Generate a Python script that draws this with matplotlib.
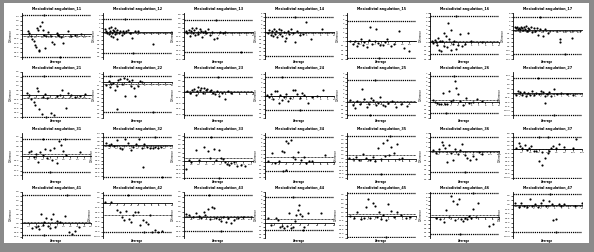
import matplotlib
matplotlib.use("Agg")
import matplotlib.pyplot as plt
from matplotlib.ticker import MaxNLocator

# ---------------- data ----------------
teeth = ["11", "12", "13", "14", "15", "16", "17",
         "21", "22", "23", "24", "25", "26", "27",
         "31", "32", "33", "34", "35", "36", "37",
         "41", "42", "43", "44", "45", "46", "47"]

avg_11 = [0.5,0.6,0.8,0.9,1.0,1.1,1.2,1.3,1.4,1.5,1.5,1.6,1.7,1.8,1.9,2.0,2.1,2.3,2.5,2.6,2.8,3.0,3.1,3.2,3.4,3.6,4.0,4.3,4.6,5.1,1.9,3.3]
diff_11 = [0.4,0.2,-0.2,-0.6,-0.9,-1.4,-1.7,0.8,0.6,-2.1,-2.3,1.1,1.6,0.5,-0.1,-1.9,-0.3,0.3,-0.2,-1.1,-1.3,0.1,-0.1,-0.3,-0.4,-1.2,0.4,-0.2,-0.1,0.0,2.6,-3.0]
avg_12 = [0.3,0.5,0.6,0.8,0.9,1.0,1.1,1.2,1.3,1.4,1.5,1.6,1.7,1.8,1.9,2.0,2.1,2.3,2.5,2.7,2.9,3.1,3.3,3.6,3.9,4.2,4.6,5.0,7.3,3.2,4.4]
diff_12 = [0.6,0.2,-0.3,0.8,-0.5,0.3,-0.9,1.2,-0.2,0.5,-1.3,0.1,-0.6,0.9,-0.1,-1.6,0.4,-0.4,0.2,-0.8,0.3,-0.2,0.1,0.5,-0.3,-1.5,0.2,0.1,-2.9,3.1,-5.1]
avg_13 = [0.3,0.5,0.7,0.9,1.0,1.2,1.3,1.5,1.6,1.8,2.0,2.1,2.3,2.5,2.6,2.8,3.0,3.2,3.5,3.8,4.1,4.4,4.8,5.2,5.6,6.0,8.3,4.6]
diff_13 = [0.3,-0.4,0.8,-1.2,0.5,1.3,-0.2,0.9,-0.8,1.6,0.2,-0.6,1.0,0.4,-1.5,0.1,0.6,-0.3,1.1,-0.9,0.2,-2.4,-2.0,0.0,-0.3,0.1,-6.8,4.0]
avg_14 = [0.4,0.6,0.8,1.0,1.1,1.3,1.5,1.6,1.8,2.0,2.2,2.3,2.5,2.7,2.9,3.1,3.3,3.5,3.7,4.0,4.3,4.6,5.0,5.5,5.9,6.6,8.3,4.4]
diff_14 = [-0.2,0.5,-0.8,0.3,-1.1,0.7,-0.5,0.2,-1.3,0.9,-0.4,0.6,-0.9,0.1,-2.2,-1.4,0.4,-0.6,0.8,-0.2,-2.5,0.3,-0.7,-0.4,2.6,-1.9,0.8,3.9]
avg_15 = [0.3,0.5,0.7,0.9,1.0,1.2,1.4,1.5,1.7,1.9,2.0,2.2,2.4,2.5,2.7,2.9,3.1,3.3,3.5,3.8,4.1,4.5,5.0,5.4,2.8]
diff_15 = [0.2,-0.5,0.0,-1.0,-0.3,0.5,-0.8,-0.2,-1.2,0.4,3.2,-0.6,0.1,2.8,-0.4,-0.9,-0.7,-0.2,0.6,-1.1,-0.5,2.5,-1.5,-2.2,-3.8]
avg_16 = [0.3,0.5,0.7,0.9,1.0,1.2,1.3,1.5,1.6,1.8,2.0,2.1,2.3,2.4,2.6,2.8,3.0,3.1,3.3,3.5,3.7,4.0,4.3,4.6,5.0,5.5,6.0,7.5,3.8]
diff_16 = [0.3,-0.2,0.5,0.1,-0.6,1.0,-1.8,0.2,-2.1,0.4,2.2,-0.8,1.5,-1.2,4.5,0.8,-1.9,3.0,-0.5,0.2,-1.5,-0.7,1.9,-1.0,-0.3,2.2,0.4,0.1,6.2]
avg_17 = [0.4,0.6,0.8,1.0,1.2,1.4,1.6,1.8,2.0,2.2,2.4,2.6,2.8,3.0,3.3,3.6,3.9,4.2,4.5,4.8,5.1,5.5,6.0,6.4,7.0,9.5,9.6,12.0,10.5,5.5]
diff_17 = [1.2,0.8,1.5,0.5,1.0,0.3,1.3,0.7,-0.2,1.1,0.4,1.6,-0.6,0.9,0.2,1.4,-1.2,0.6,-0.4,1.0,-2.5,0.3,-3.2,0.5,-1.5,-4.5,-6.0,-4.0,-11.6,6.0]

avg_21 = [0.4,0.6,0.8,1.0,1.1,1.3,1.4,1.5,1.7,1.8,2.0,2.2,2.5,2.8,3.0,3.3,3.5,3.8,4.0,4.3,4.6,5.0,5.5,1.9,2.1]
diff_21 = [0.2,-0.1,-0.5,-0.8,-1.2,0.7,0.4,-1.6,-2.2,-0.3,0.1,-0.4,-2.0,-2.3,-0.2,-0.1,0.5,-1.5,0.2,0.0,-0.3,-0.2,0.1,2.1,-2.5]
avg_22 = [0.5,0.8,1.0,1.2,1.5,1.7,2.0,2.2,2.4,2.7,3.0,3.2,3.5,3.8,4.0,4.2,4.5,4.7,5.0,5.3,5.6,2.1,1.0,7.2]
diff_22 = [-0.8,0.2,-1.2,-0.5,-0.3,-2.1,-1.0,0.6,0.8,-0.4,0.9,-3.5,0.7,0.3,-0.9,0.5,-1.4,-3.6,-1.1,0.2,0.1,-6.8,1.5,-7.5]
avg_23 = [0.5,0.9,1.2,1.5,1.7,1.9,2.1,2.3,2.5,2.7,2.9,3.2,3.4,3.7,3.9,4.2,4.5,4.8,5.1,5.5,6.0,6.4,6.8,4.9]
diff_23 = [0.1,-0.4,0.5,0.8,-0.8,0.3,1.2,0.6,1.0,-0.2,0.9,0.4,0.7,0.2,0.5,-0.3,-0.6,0.1,-1.1,-0.4,-1.8,0.1,-0.2,4.0]
avg_24 = [0.3,0.6,0.9,1.2,1.5,1.8,2.0,2.2,2.5,2.8,3.0,3.3,3.6,4.0,4.3,4.6,5.0,5.3,5.7,6.2,6.8,7.5,8.4,5.0,2.4]
diff_24 = [0.2,-0.3,0.5,-0.6,1.1,1.2,-1.6,0.3,-0.8,-0.3,0.5,-1.2,-0.4,1.5,1.4,0.4,-0.5,0.6,0.3,-1.5,-0.2,0.1,1.4,-3.2,4.3]
avg_25 = [0.3,0.5,0.7,0.9,1.1,1.3,1.5,1.7,1.9,2.1,2.3,2.5,2.7,2.9,3.1,3.3,3.6,3.9,4.3,4.7,5.2,2.0,2.4]
diff_25 = [0.5,-0.8,-1.5,0.3,-0.5,3.2,0.8,-1.2,-0.6,1.0,0.4,-0.9,-0.3,1.3,-0.7,-1.0,-0.4,0.2,-1.3,-0.6,-1.1,-3.2,5.5]
avg_26 = [0.4,0.7,1.0,1.3,1.6,1.9,2.2,2.5,2.8,3.1,3.4,3.6,3.8,4.1,4.4,4.8,5.2,5.6,6.2,6.8,7.5,2.3,3.5]
diff_26 = [0.4,0.0,-0.3,-0.5,-0.4,2.2,-0.6,-0.4,2.8,0.3,0.5,5.2,3.6,2.0,0.3,-0.7,0.9,-0.3,0.1,0.7,0.2,-2.7,6.5]
avg_27 = [0.4,0.7,1.0,1.3,1.6,1.9,2.2,2.5,2.8,3.1,3.4,3.7,4.0,4.3,4.6,4.9,5.2,5.5,5.9,6.4,7.0,7.8,8.7,4.7,3.6,6.0]
diff_27 = [-1.0,1.2,0.5,-0.8,0.6,-1.5,0.3,-0.9,1.0,-1.2,0.2,-0.5,1.4,0.5,-1.8,-0.6,0.8,-1.3,2.5,-0.2,0.3,-0.6,-0.9,-5.5,8.6,-12.2]

avg_31 = [0.3,0.4,0.5,0.6,0.7,0.8,0.9,1.0,1.1,1.2,1.3,1.4,1.5,1.6,1.7,1.8,1.9,2.5,1.85,1.2,0.9]
diff_31 = [0.3,0.4,-0.1,0.2,-0.5,0.3,0.1,0.6,-0.2,0.5,-0.3,0.7,-0.6,1.2,0.9,0.4,0.1,0.3,1.4,-1.3,1.4]
avg_32 = [0.2,0.4,0.6,0.8,1.0,1.2,1.4,1.6,1.8,2.0,2.2,2.4,2.6,2.8,3.0,3.2,3.4,3.6,3.8,4.0,4.2,2.9,3.8,4.3]
diff_32 = [0.4,0.1,0.3,-0.2,1.0,-0.5,-0.8,1.2,0.5,-1.1,-0.4,0.2,1.3,-0.7,0.3,-0.3,-0.5,-0.6,-0.4,-0.5,-0.3,-4.5,1.7,-6.6]
avg_33 = [0.5,1.0,1.5,2.5,3.0,4.0,4.8,5.3,6.0,6.5,7.0,7.6,8.0,8.4,8.8,9.2,9.6,10.1,10.7,11.5,12.3,5.5,7.2]
diff_33 = [-3.0,0.4,-0.5,4.0,0.3,4.8,3.4,1.2,4.3,0.2,4.0,1.0,0.6,-0.5,-1.0,-1.3,-0.8,-0.5,-2.0,-1.6,-1.8,8.7,-6.0]
avg_34 = [0.5,1.0,1.5,2.0,2.4,2.8,3.1,3.4,3.7,4.0,4.4,4.8,5.2,5.6,6.0,6.4,6.8,8.7,2.6,3.0]
diff_34 = [0.1,2.2,-0.2,0.3,2.8,2.5,5.3,4.8,5.8,1.2,0.6,2.5,0.4,1.2,-0.3,0.3,0.2,1.8,-2.3,-2.2]
avg_35 = [0.3,0.8,1.3,1.8,2.3,2.8,3.3,3.7,4.1,4.5,4.9,5.2,5.5,5.8,6.1,6.4,6.8,7.2,7.6,8.0,5.0,6.2]
diff_35 = [0.3,-0.2,0.5,-0.4,1.8,0.1,-0.5,0.6,-1.0,4.2,-0.3,5.9,1.0,7.2,1.5,4.6,2.0,5.7,-0.2,0.3,-6.0,8.9]
avg_36 = [0.5,1.0,1.5,2.0,2.3,2.6,3.0,3.3,3.6,4.0,4.4,4.8,5.2,5.6,6.0,6.5,7.0,7.5,8.0,8.5,9.0,6.0]
diff_36 = [0.2,-0.3,0.5,2.0,1.3,0.8,-2.2,1.4,-0.4,-1.8,0.6,-0.5,0.3,1.6,-0.8,-1.5,-1.8,-0.9,-1.7,-0.2,-0.5,-4.5]
avg_37 = [0.5,1.0,1.3,1.6,2.0,2.4,2.8,3.2,3.6,4.0,4.5,5.0,5.5,6.0,6.3,6.6,7.0,7.4,8.0,8.8,10.5,11.0,5.0,6.0,4.6]
diff_37 = [0.3,2.2,1.1,0.6,1.4,-0.2,0.5,1.2,-0.5,-0.8,-4.5,-1.0,-3.2,-1.3,-0.5,0.5,1.2,0.3,1.8,0.8,0.5,3.6,-5.8,4.6,4.5]

avg_41 = [0.6,0.8,0.9,1.0,1.1,1.2,1.3,1.4,1.5,1.6,1.7,1.8,1.9,2.0,2.2,2.5,2.7,2.9,3.1,3.3,2.6,1.3]
diff_41 = [-0.4,-0.3,-0.2,-0.5,0.8,-0.1,0.1,0.5,-0.2,-0.4,0.4,0.8,-0.3,0.2,0.1,0.7,-0.8,-0.9,-0.7,-0.3,2.55,-1.0]
avg_42 = [0.3,1.2,2.0,2.4,2.8,3.1,3.4,3.7,4.0,4.3,4.6,5.0,5.4,5.8,6.2,6.5,6.8,7.1,7.5,8.0,8.5,3.6,5.9]
diff_42 = [0.3,0.2,-2.2,-3.0,-4.5,-5.5,-2.5,-5.0,-6.0,-3.8,-2.8,-2.8,-7.0,-5.5,-6.0,-6.5,-4.0,-9.0,-8.5,-9.0,-8.8,2.4,-9.1]
avg_43 = [0.5,1.0,1.8,2.5,3.0,3.5,4.0,4.3,4.8,5.2,5.6,6.0,6.5,7.0,7.5,8.0,8.5,9.0,9.5,10.2,11.0,12.0,7.6,5.0]
diff_43 = [0.8,0.4,-0.2,1.0,0.2,-0.5,1.5,0.6,2.3,-0.6,2.8,2.5,-0.4,-0.8,-1.2,-0.2,-1.6,-0.4,-1.8,-0.9,-0.5,-0.2,-4.4,6.7]
avg_44 = [0.6,1.5,2.5,3.0,3.5,4.0,4.5,5.0,5.5,6.0,6.5,7.0,7.3,7.6,7.9,8.2,8.5,9.0,10.0,13.0,6.6,8.8]
diff_44 = [1.1,-0.5,1.3,0.6,-1.2,-0.8,-1.5,-0.9,2.5,-1.4,-1.0,0.5,2.0,3.2,4.6,2.2,1.8,-1.2,2.6,2.6,6.8,-2.0]
avg_45 = [0.5,1.0,1.5,2.0,2.4,2.8,3.1,3.4,3.7,4.0,4.3,4.6,4.9,5.2,5.6,6.0,6.4,6.8,7.3,7.8,8.5,9.2,5.6]
diff_45 = [0.3,-0.4,1.5,-1.0,-0.6,3.3,6.2,-0.5,4.8,3.6,-0.2,1.4,-0.8,0.5,-1.4,4.4,1.8,-0.3,1.7,0.4,-0.5,-0.3,-7.0]
avg_46 = [0.8,1.5,2.0,2.3,2.7,3.0,3.3,3.6,3.9,4.2,4.5,4.8,5.1,5.4,5.7,6.0,6.3,6.6,6.9,8.5,9.2,4.3,6.2]
diff_46 = [-0.3,-0.5,-1.5,1.8,-0.2,5.2,4.0,-1.0,3.2,4.5,-0.5,-1.2,-0.3,-0.7,0.2,-0.4,2.0,-0.2,3.5,-2.5,-1.8,-4.6,6.1]
avg_47 = [0.3,0.8,1.2,1.6,2.0,2.4,2.8,3.2,3.6,4.0,4.4,4.8,5.2,5.6,5.8,6.2,6.6,7.0,7.4,9.0,10.0,5.4,6.3]
diff_47 = [0.6,-0.8,0.8,-0.3,-0.6,2.0,-0.2,0.3,-0.8,0.5,1.8,-0.2,1.2,0.4,-5.0,-4.6,0.3,-0.4,0.2,-0.3,0.6,3.8,-9.0]

# limits of agreement: upper, bias, lower
upper_loa = [2.6, 3.1, 4.0, 3.9, 4.6, 6.2, 6.0,
             2.1, 1.5, 4.0, 4.3, 5.5, 6.5, 8.6,
             1.4, 1.7, 8.7, 6.5, 8.9, 3.2, 4.6,
             2.55, 2.4, 6.7, 6.8, 8.3, 6.1, 3.8]
bias = [-0.2, -0.3, -0.4, -0.3, 0.2, 0.3, -0.6,
        -0.4, -0.6, 0.2, 0.1, 0.3, 0.6, -0.3,
        0.2, -0.2, 0.9, 1.3, 1.2, -0.2, 0.0,
        0.1, -4.0, 0.2, 0.9, 0.7, 0.5, -0.4]
lower_loa = [-3.0, -5.1, -6.8, -6.2, -3.8, -2.8, -11.6,
             -2.5, -7.5, -6.1, -3.2, -3.2, -2.7, -12.2,
             -1.3, -6.6, -6.0, -2.3, -6.0, -4.5, -10.7,
             -1.0, -9.1, -4.4, -2.0, -7.0, -4.6, -9.0]

# axis ranges per panel (y min, y max, x max)
y_lo = [-3.3, -6.5, -9.0, -7.0, -4.0, -4.0, -14.0,
        -2.6, -9.0, -7.0, -5.0, -4.0, -4.0, -14.0,
        -1.9, -7.0, -6.5, -4.5, -8.0, -6.0, -11.0,
        -1.3, -11.0, -6.5, -4.0, -7.5, -5.5, -11.0]
y_hi = [2.8, 4.5, 6.5, 5.0, 6.5, 7.0, 8.0,
        2.5, 2.5, 5.3, 5.5, 7.4, 7.5, 12.0,
        1.9, 2.5, 10.0, 7.5, 10.0, 4.0, 6.0,
        2.8, 3.3, 7.5, 8.0, 8.5, 6.3, 4.3]
x_hi = [6, 10, 10, 10, 6, 10, 14,
        6, 10, 10, 10, 6, 10, 10,
        3, 5, 14, 10, 10, 12, 12,
        4, 10, 14, 16, 10, 10, 10]

avgs = [avg_11, avg_12, avg_13, avg_14, avg_15, avg_16, avg_17,
        avg_21, avg_22, avg_23, avg_24, avg_25, avg_26, avg_27,
        avg_31, avg_32, avg_33, avg_34, avg_35, avg_36, avg_37,
        avg_41, avg_42, avg_43, avg_44, avg_45, avg_46, avg_47]
diffs = [diff_11, diff_12, diff_13, diff_14, diff_15, diff_16, diff_17,
         diff_21, diff_22, diff_23, diff_24, diff_25, diff_26, diff_27,
         diff_31, diff_32, diff_33, diff_34, diff_35, diff_36, diff_37,
         diff_41, diff_42, diff_43, diff_44, diff_45, diff_46, diff_47]

# ---------------- figure ----------------
W, H = 594, 252
fig = plt.figure(figsize=(W / 100, H / 100), dpi=100, facecolor="#8a8a8a")
bg = fig.add_axes([4 / W, 1 - 243 / H, 585 / W, 240 / H], zorder=-10)
bg.set_facecolor("white")
bg.set_xticks([])
bg.set_yticks([])
for s in bg.spines.values():
    s.set_visible(False)

col_left = [22, 103, 184, 265, 347, 430, 513]
row_top = [13, 72, 133, 192]
aw, ah = 69, 46

for i, tooth in enumerate(teeth):
    r, c = divmod(i, 7)
    ax = fig.add_axes([col_left[c] / W, 1 - (row_top[r] + ah) / H, aw / W, ah / H])
    ax.patch.set_alpha(0)
    ax.set_xlim(0, x_hi[i])
    ax.set_ylim(y_lo[i], y_hi[i])
    ax.scatter(avgs[i], diffs[i], s=2.4, color="black", linewidths=0, zorder=3)
    for val in (upper_loa[i], lower_loa[i]):
        ax.axhline(val, color="black", lw=0.9, linestyle=(0, (1.0, 0.7)), zorder=2)
    ax.axhline(bias[i], color="black", lw=0.6, linestyle=(0, (1.0, 0.7)), zorder=2)
    for s in ("top", "right"):
        ax.spines[s].set_visible(False)
    ax.spines["bottom"].set_position(("data", 0))
    ax.spines["left"].set_linewidth(0.6)
    ax.spines["bottom"].set_linewidth(0.6)
    ax.yaxis.set_major_locator(MaxNLocator(12))
    ax.xaxis.set_major_locator(MaxNLocator(10))
    ax.tick_params(axis="both", labelsize=1.6, length=1.3, width=0.45, pad=0.6)
    xt = ax.get_xticks()
    ax.set_xticks([t for t in xt if 0 < t <= x_hi[i]])
    ax.set_title("Mesiodistal angulation_" + tooth, fontsize=2.4,
                 fontweight="bold", pad=2.5)
    ax.set_ylabel("Difference", fontsize=1.8, labelpad=1)
    ax.text(0.5, -0.02, "Average", transform=ax.transAxes, ha="center",
            va="top", fontsize=1.9, fontweight="bold")

fig.savefig("out.png", dpi=100, facecolor=fig.get_facecolor())
